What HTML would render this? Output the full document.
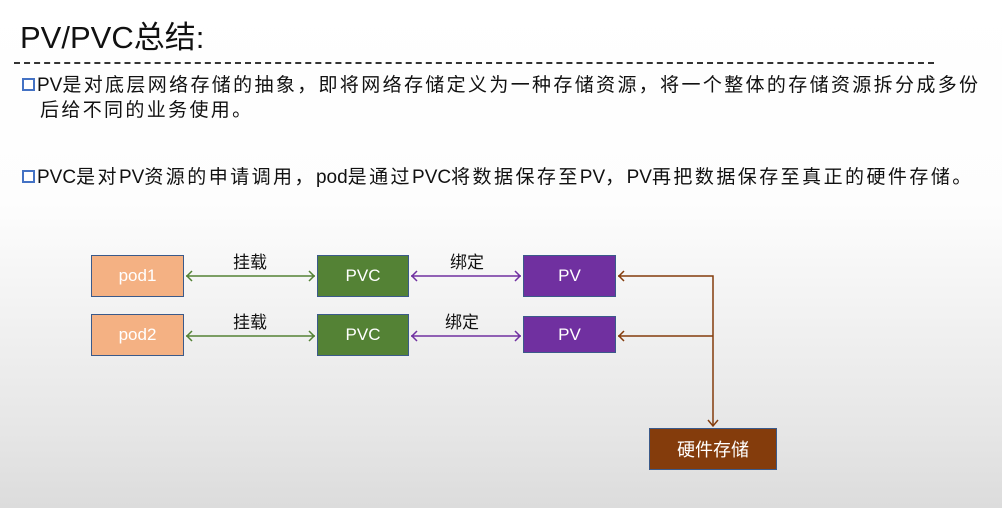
<!DOCTYPE html>
<html><head><meta charset="utf-8"><style>
body{margin:0;width:1002px;height:508px;overflow:hidden;background:linear-gradient(#ffffff 0%,#fdfdfd 40%,#e6e6e6 85%,#dcdcdc 100%);font-family:"Liberation Sans","Noto Sans CJK SC",sans-serif;position:relative}
.t{position:absolute;color:#111;white-space:nowrap}
.t i{font-style:normal;letter-spacing:0}
.b{position:absolute;display:flex;align-items:center;justify-content:center;color:#fff;font-size:17px;box-sizing:border-box;border:1px solid #3b5a8a}
.sq{display:inline-block;width:13px;height:13px;border:2.5px solid #4472c4;box-sizing:border-box;margin-right:2px;vertical-align:0px;background:#fff;letter-spacing:0}
</style></head><body>
<div class="t" style="left:20px;top:12px;font-size:31px">PV/PVC总结:</div>
<div style="position:absolute;left:14px;top:62px;width:920px;border-top:2px dashed #333"></div>
<div class="t" style="left:22px;top:70px;font-size:19px;letter-spacing:2.35px"><span class="sq"></span><i>PV</i>是对底层网络存储的抽象，即将网络存储定义为一种存储资源，将一个整体的存储资源拆分成多份</div>
<div class="t" style="left:40px;top:95px;font-size:19px;letter-spacing:2.35px">后给不同的业务使用。</div>
<div class="t" style="left:22px;top:162px;font-size:19px;letter-spacing:2.45px"><span class="sq"></span><i>PVC</i>是对<i>PV</i>资源的申请调用，<i>pod</i>是通过<i>PVC</i>将数据保存至<i>PV</i>，<i>PV</i>再把数据保存至真正的硬件存储。</div>
<div class="b" style="left:91px;top:255px;width:93px;height:42px;background:#f4b183">pod1</div>
<div class="b" style="left:91px;top:314px;width:93px;height:42px;background:#f4b183">pod2</div>
<div class="b" style="left:317px;top:255px;width:92px;height:42px;background:#548235">PVC</div>
<div class="b" style="left:317px;top:314px;width:92px;height:42px;background:#548235">PVC</div>
<div class="b" style="left:523px;top:255px;width:93px;height:42px;background:#7030a0">PV</div>
<div class="b" style="left:523px;top:316px;width:93px;height:37px;background:#7030a0">PV</div>
<div class="b" style="left:649px;top:428px;width:128px;height:42px;background:#843c0c;font-size:18px">硬件存储</div>
<div class="t" style="left:233px;top:248px;font-size:17px">挂载</div>
<div class="t" style="left:233px;top:308px;font-size:17px">挂载</div>
<div class="t" style="left:450px;top:248px;font-size:17px">绑定</div>
<div class="t" style="left:445px;top:308px;font-size:17px">绑定</div>
<svg width="1002" height="508" style="position:absolute;left:0;top:0" fill="none" stroke-width="1.5">
<g stroke="#548235"><path d="M186 276H315M186 336H315"/><path d="M192 271l-5 5 5 5M309 271l5 5-5 5M192 331l-5 5 5 5M309 331l5 5-5 5"/></g>
<g stroke="#7030a0"><path d="M411 276H521M411 336H521"/><path d="M417 271l-5 5 5 5M515 271l5 5-5 5M417 331l-5 5 5 5M515 331l5 5-5 5"/></g>
<g stroke="#843c0c"><path d="M618 276H713V426M618 336H713"/><path d="M624 271l-5 5 5 5M624 331l-5 5 5 5M708 420l5 6 5-6"/></g>
</svg>
</body></html>
